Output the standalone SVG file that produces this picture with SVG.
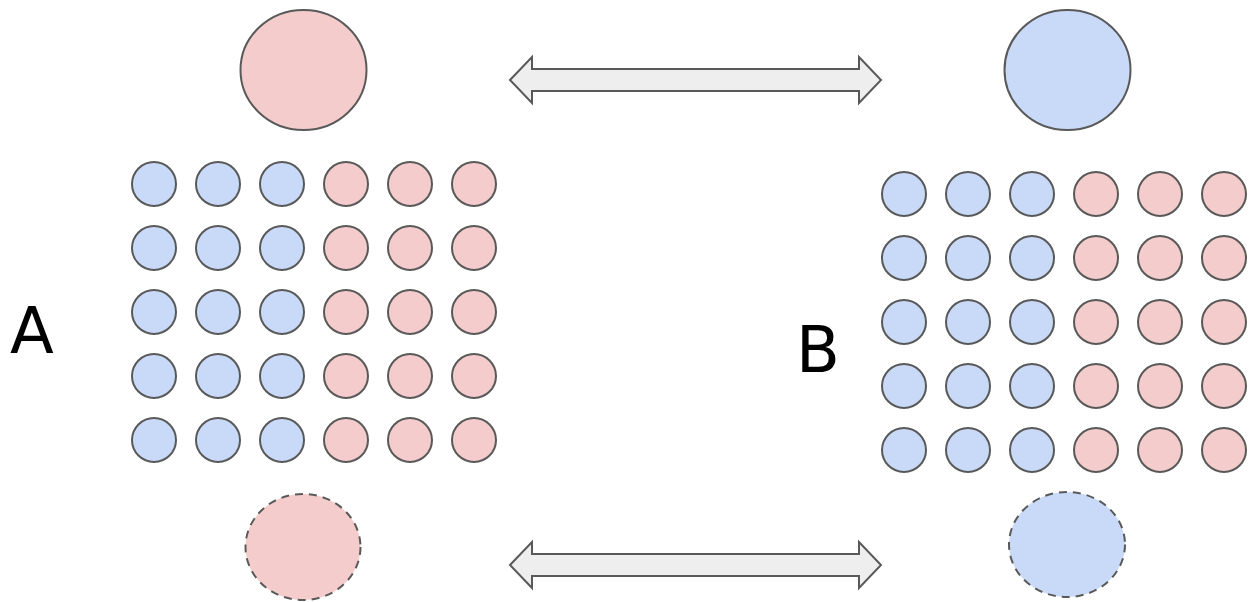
<svg xmlns="http://www.w3.org/2000/svg" width="1249" height="602" viewBox="0 0 1249 602">
<style>
.b{fill:#c9daf8;stroke:#595959;stroke-width:2}
.p{fill:#f4cccc;stroke:#595959;stroke-width:2}
.d{stroke-dasharray:8,6}
.arr{fill:#eeeeee;stroke:#595959;stroke-width:2;stroke-linejoin:miter}
.lbl{font-family:"DejaVu Sans",sans-serif;font-size:64px;fill:#000}
</style>
<defs>
<circle id="sb" r="22" class="b"/>
<circle id="sp" r="22" class="p"/>
</defs>
<g id="connectors">
<path class="arr" d="M510,80 L532,57 L532,69 L859,69 L859,57 L881,80 L859,103 L859,91 L532,91 L532,103 Z"/>
<path class="arr" d="M510,565 L532,542 L532,554 L859,554 L859,542 L881,565 L859,588 L859,576 L532,576 L532,588 Z"/>
</g>
<g id="topA"><ellipse cx="303.5" cy="70" rx="63" ry="60" class="p"/></g>
<g id="topB"><ellipse cx="1067.5" cy="70" rx="63" ry="60" class="b"/></g>
<g id="botA"><ellipse cx="303" cy="547" rx="57.5" ry="53" class="p d"/></g>
<g id="botB"><ellipse cx="1067" cy="544.5" rx="58" ry="52.5" class="b d"/></g>
<g id="gridA">
<g id="gridA-r1"><use href="#sb" x="154" y="184"/><use href="#sb" x="218" y="184"/><use href="#sb" x="282" y="184"/><use href="#sp" x="346" y="184"/><use href="#sp" x="410" y="184"/><use href="#sp" x="474" y="184"/></g>
<g id="gridA-r2"><use href="#sb" x="154" y="248"/><use href="#sb" x="218" y="248"/><use href="#sb" x="282" y="248"/><use href="#sp" x="346" y="248"/><use href="#sp" x="410" y="248"/><use href="#sp" x="474" y="248"/></g>
<g id="gridA-r3"><use href="#sb" x="154" y="312"/><use href="#sb" x="218" y="312"/><use href="#sb" x="282" y="312"/><use href="#sp" x="346" y="312"/><use href="#sp" x="410" y="312"/><use href="#sp" x="474" y="312"/></g>
<g id="gridA-r4"><use href="#sb" x="154" y="376"/><use href="#sb" x="218" y="376"/><use href="#sb" x="282" y="376"/><use href="#sp" x="346" y="376"/><use href="#sp" x="410" y="376"/><use href="#sp" x="474" y="376"/></g>
<g id="gridA-r5"><use href="#sb" x="154" y="440"/><use href="#sb" x="218" y="440"/><use href="#sb" x="282" y="440"/><use href="#sp" x="346" y="440"/><use href="#sp" x="410" y="440"/><use href="#sp" x="474" y="440"/></g>
</g>
<g id="gridB">
<g id="gridB-r1"><use href="#sb" x="904" y="194"/><use href="#sb" x="968" y="194"/><use href="#sb" x="1032" y="194"/><use href="#sp" x="1096" y="194"/><use href="#sp" x="1160" y="194"/><use href="#sp" x="1224" y="194"/></g>
<g id="gridB-r2"><use href="#sb" x="904" y="258"/><use href="#sb" x="968" y="258"/><use href="#sb" x="1032" y="258"/><use href="#sp" x="1096" y="258"/><use href="#sp" x="1160" y="258"/><use href="#sp" x="1224" y="258"/></g>
<g id="gridB-r3"><use href="#sb" x="904" y="322"/><use href="#sb" x="968" y="322"/><use href="#sb" x="1032" y="322"/><use href="#sp" x="1096" y="322"/><use href="#sp" x="1160" y="322"/><use href="#sp" x="1224" y="322"/></g>
<g id="gridB-r4"><use href="#sb" x="904" y="386"/><use href="#sb" x="968" y="386"/><use href="#sb" x="1032" y="386"/><use href="#sp" x="1096" y="386"/><use href="#sp" x="1160" y="386"/><use href="#sp" x="1224" y="386"/></g>
<g id="gridB-r5"><use href="#sb" x="904" y="450"/><use href="#sb" x="968" y="450"/><use href="#sb" x="1032" y="450"/><use href="#sp" x="1096" y="450"/><use href="#sp" x="1160" y="450"/><use href="#sp" x="1224" y="450"/></g>
</g>
<g id="labelA"><text class="lbl" x="10" y="353">A</text></g>
<g id="labelB"><text class="lbl" x="796" y="372">B</text></g>
</svg>
